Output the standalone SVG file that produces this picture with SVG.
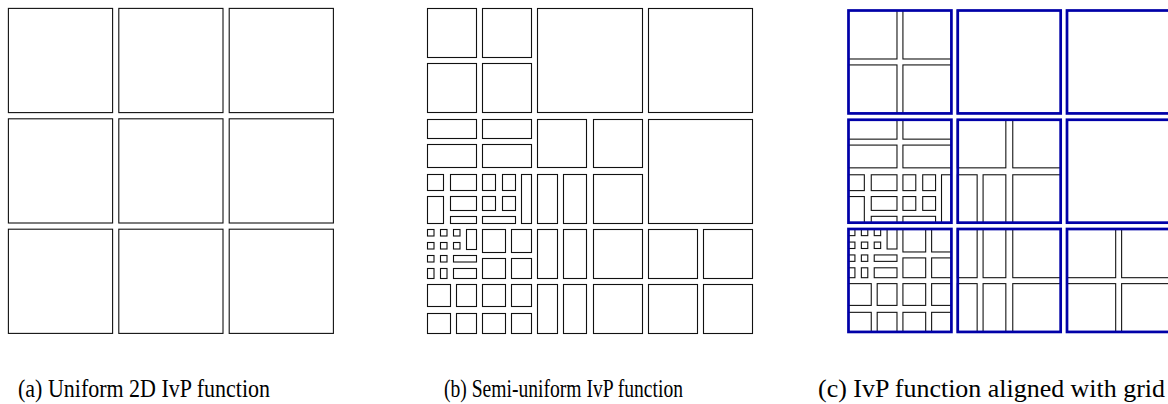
<svg xmlns="http://www.w3.org/2000/svg" xmlns:xlink="http://www.w3.org/1999/xlink" width="1168" height="404" viewBox="0 0 1168 404">
  <style>
    .piece { fill: none; stroke: #111; stroke-width: 1.1; }
    .grid { fill: none; stroke: #0000a8; stroke-width: 2.75; }
    .caption { font-family: "Liberation Serif", "Times New Roman", serif; font-size: 26px; fill: #000; }
  </style>
  <defs>
    <!-- semi-uniform partition, reused in panel (c) -->
    <g id="semi-pieces" class="piece">
      <!-- row 0 -->
      <rect x="427.5" y="8.5" width="49" height="49"/>
      <rect x="482.5" y="8.5" width="49" height="49"/>
      <rect x="427.5" y="63.5" width="49" height="49"/>
      <rect x="482.5" y="63.5" width="49" height="49"/>
      <rect x="537.5" y="8.5" width="105" height="104"/>
      <rect x="648.5" y="8.5" width="104" height="104"/>
      <!-- row 1, column 0 -->
      <rect x="427.5" y="119.5" width="49" height="19"/>
      <rect x="482.5" y="119.5" width="49" height="19"/>
      <rect x="427.5" y="144.5" width="49" height="23"/>
      <rect x="482.5" y="144.5" width="49" height="23"/>
      <rect x="427.5" y="174.5" width="16" height="16"/>
      <rect x="450.5" y="174.5" width="26" height="16"/>
      <rect x="482.5" y="174.5" width="13" height="16"/>
      <rect x="502.5" y="174.5" width="13" height="16"/>
      <rect x="521.5" y="174.5" width="10" height="49"/>
      <rect x="427.5" y="196.5" width="16" height="27"/>
      <rect x="450.5" y="196.5" width="26" height="14"/>
      <rect x="482.5" y="196.5" width="13" height="14"/>
      <rect x="502.5" y="196.5" width="13" height="14"/>
      <rect x="450.5" y="216.5" width="26" height="7"/>
      <rect x="482.5" y="216.5" width="33" height="7"/>
      <!-- row 1, column 1 -->
      <rect x="537.5" y="119.5" width="49" height="48"/>
      <rect x="593.5" y="119.5" width="49" height="48"/>
      <rect x="537.5" y="174.5" width="20" height="49"/>
      <rect x="563.5" y="174.5" width="23" height="49"/>
      <rect x="593.5" y="174.5" width="49" height="49"/>
      <!-- row 1, column 2 -->
      <rect x="648.5" y="119.5" width="104" height="104"/>
      <!-- row 2, column 0 -->
      <rect x="427.5" y="229.5" width="6.5" height="6.5"/>
      <rect x="440.5" y="229.5" width="6.5" height="6.5"/>
      <rect x="453.5" y="229.5" width="6.5" height="6.5"/>
      <rect x="466.5" y="229.5" width="10" height="20"/>
      <rect x="427.5" y="242.5" width="6.5" height="6.5"/>
      <rect x="440.5" y="242.5" width="6.5" height="6.5"/>
      <rect x="453.5" y="242.5" width="6.5" height="6.5"/>
      <rect x="427.5" y="255.5" width="6.5" height="6.5"/>
      <rect x="440.5" y="255.5" width="6.5" height="6.5"/>
      <rect x="453.5" y="255.5" width="23" height="6.5"/>
      <rect x="427.5" y="268.5" width="6.5" height="10"/>
      <rect x="440.5" y="268.5" width="6.5" height="10"/>
      <rect x="453.5" y="268.5" width="23" height="10"/>
      <rect x="482.5" y="229.5" width="23" height="23"/>
      <rect x="511.5" y="229.5" width="20" height="23"/>
      <rect x="482.5" y="258.5" width="23" height="20"/>
      <rect x="511.5" y="258.5" width="20" height="20"/>
      <rect x="427.5" y="284.5" width="23" height="22"/>
      <rect x="456.5" y="284.5" width="20" height="22"/>
      <rect x="482.5" y="284.5" width="23" height="22"/>
      <rect x="511.5" y="284.5" width="20" height="22"/>
      <rect x="427.5" y="313.5" width="23" height="20"/>
      <rect x="456.5" y="313.5" width="20" height="20"/>
      <rect x="482.5" y="313.5" width="23" height="20"/>
      <rect x="511.5" y="313.5" width="20" height="20"/>
      <!-- row 2, column 1 -->
      <rect x="537.5" y="229.5" width="20" height="49"/>
      <rect x="563.5" y="229.5" width="23" height="49"/>
      <rect x="593.5" y="229.5" width="49" height="49"/>
      <rect x="537.5" y="284.5" width="20" height="49"/>
      <rect x="563.5" y="284.5" width="23" height="49"/>
      <rect x="593.5" y="284.5" width="49" height="49"/>
      <!-- row 2, column 2 -->
      <rect x="648.5" y="229.5" width="49" height="49"/>
      <rect x="703.5" y="229.5" width="49" height="49"/>
      <rect x="648.5" y="284.5" width="49" height="49"/>
      <rect x="703.5" y="284.5" width="49" height="49"/>
    </g>
  </defs>

  <!-- (a) uniform 3x3 partition -->
  <g id="panel-a" class="piece">
    <rect x="8.4" y="8.4" width="104.2" height="104.2"/>
    <rect x="118.8" y="8.4" width="104.2" height="104.2"/>
    <rect x="229.2" y="8.4" width="104.2" height="104.2"/>
    <rect x="8.4" y="118.8" width="104.2" height="104.2"/>
    <rect x="118.8" y="118.8" width="104.2" height="104.2"/>
    <rect x="229.2" y="118.8" width="104.2" height="104.2"/>
    <rect x="8.4" y="229.2" width="104.2" height="104.2"/>
    <rect x="118.8" y="229.2" width="104.2" height="104.2"/>
    <rect x="229.2" y="229.2" width="104.2" height="104.2"/>
  </g>

  <!-- (b) semi-uniform partition -->
  <g id="panel-b">
    <use xlink:href="#semi-pieces" href="#semi-pieces"/>
  </g>

  <!-- (c) same partition with the 3x3 grid on top -->
  <g id="panel-c" transform="translate(425.44 2.09) scale(0.9896)">
    <use xlink:href="#semi-pieces" href="#semi-pieces"/>
    <g id="grid-cells" class="grid">
      <rect x="427.5" y="8.5" width="104" height="104"/>
      <rect x="537.9" y="8.5" width="104" height="104"/>
      <rect x="648.3" y="8.5" width="104" height="104"/>
      <rect x="427.5" y="118.9" width="104" height="104"/>
      <rect x="537.9" y="118.9" width="104" height="104"/>
      <rect x="648.3" y="118.9" width="104" height="104"/>
      <rect x="427.5" y="229.3" width="104" height="104"/>
      <rect x="537.9" y="229.3" width="104" height="104"/>
      <rect x="648.3" y="229.3" width="104" height="104"/>
    </g>
  </g>

  <!-- captions -->
  <g id="captions" class="caption">
    <text x="18" y="397" textLength="252" lengthAdjust="spacingAndGlyphs">(a) Uniform 2D IvP function</text>
    <text x="444" y="397" textLength="239" lengthAdjust="spacingAndGlyphs">(b) Semi-uniform IvP function</text>
    <text x="818" y="397" textLength="347" lengthAdjust="spacingAndGlyphs">(c) IvP function aligned with grid</text>
  </g>
</svg>
